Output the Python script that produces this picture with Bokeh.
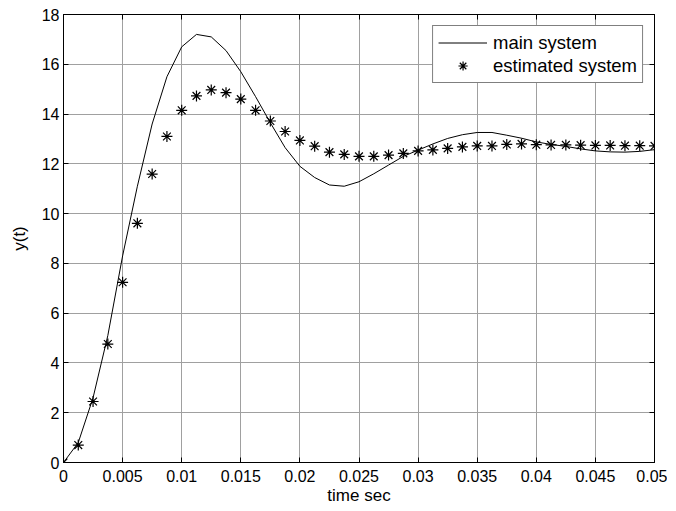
from bokeh.plotting import figure
from bokeh.models import FixedTicker, LinearAxis, Legend, LegendItem, Range1d
from bokeh.embed import file_html
from bokeh.resources import INLINE

# ---- data ----
time_s = [0, 0.00125, 0.0025, 0.00375, 0.005, 0.00625, 0.0075, 0.00875, 0.01, 0.01125,
          0.0125, 0.01375, 0.015, 0.01625, 0.0175, 0.01875, 0.02, 0.02125, 0.0225, 0.02375,
          0.025, 0.02625, 0.0275, 0.02875, 0.03, 0.03125, 0.0325, 0.03375, 0.035, 0.03625,
          0.0375, 0.03875, 0.04, 0.04125, 0.0425, 0.04375, 0.045, 0.04625, 0.0475, 0.04875, 0.05]
main_system = [0, 0.8, 2.6, 5.1, 8.3, 11.1, 13.6, 15.5, 16.7, 17.2,
               17.1, 16.55, 15.7, 14.7, 13.65, 12.65, 11.9, 11.45, 11.15, 11.1,
               11.28, 11.6, 11.95, 12.3, 12.55, 12.8, 13.02, 13.17, 13.26, 13.26,
               13.15, 13.03, 12.88, 12.78, 12.7, 12.6, 12.52, 12.48, 12.47, 12.5, 12.57]
estimated_system = [0, 0.7, 2.45, 4.76, 7.24, 9.61, 11.59, 13.1, 14.15, 14.73,
                    14.97, 14.86, 14.6, 14.15, 13.72, 13.3, 12.94, 12.71, 12.47, 12.38,
                    12.3, 12.3, 12.35, 12.42, 12.52, 12.56, 12.62, 12.68, 12.72, 12.72,
                    12.78, 12.8, 12.77, 12.76, 12.76, 12.75, 12.74, 12.74, 12.73, 12.73, 12.72]
x_ticks = [0, 0.005, 0.01, 0.015, 0.02, 0.025, 0.03, 0.035, 0.04, 0.045, 0.05]
x_tick_labels = ["0", "0.005", "0.01", "0.015", "0.02", "0.025", "0.03", "0.035", "0.04", "0.045", "0.05"]
y_ticks = [0, 2, 4, 6, 8, 10, 12, 14, 16, 18]
x_label = "time sec"
y_label = "y(t)"
series_names = ["main system", "estimated system"]

FONT = "Liberation Sans"

p = figure(width=667, height=507, output_backend="svg", toolbar_location=None,
           x_range=Range1d(0, 0.05), y_range=Range1d(0, 18),
           min_border_left=63, min_border_right=13, min_border_top=14, min_border_bottom=44)
p.background_fill_color = "white"
p.border_fill_color = "white"
p.outline_line_color = "black"
p.outline_line_width = 1

l1 = p.line(time_s, main_system, line_color="black", line_width=1)
m1 = p.scatter(time_s, estimated_system, marker="asterisk", size=11,
               line_color="black", line_width=1.2)

for ax in (p.xaxis[0], p.yaxis[0]):
    ax.major_tick_in = 5
    ax.major_tick_out = 0
    ax.minor_tick_in = 0
    ax.minor_tick_out = 0
    ax.axis_line_color = "black"
    ax.major_tick_line_color = "black"
    ax.major_label_text_font = FONT
    ax.major_label_text_font_size = "16px"
    ax.major_label_text_color = "black"
    ax.axis_label_text_font = FONT
    ax.axis_label_text_font_size = "17px"
    ax.axis_label_text_font_style = "normal"
    ax.axis_label_text_color = "black"

p.xaxis[0].ticker = FixedTicker(ticks=x_ticks)
p.xaxis[0].major_label_overrides = {t: s for t, s in zip(x_ticks, x_tick_labels)}
p.xaxis[0].major_label_standoff = 7
p.xaxis[0].axis_label = x_label
p.xaxis[0].axis_label_standoff = 1
p.yaxis[0].ticker = FixedTicker(ticks=y_ticks)
p.yaxis[0].major_label_overrides = {t: str(t) for t in y_ticks}
p.yaxis[0].major_label_standoff = 4
p.yaxis[0].axis_label = y_label
p.yaxis[0].axis_label_standoff = 10

# mirrored axes (box with ticks)
top = LinearAxis(ticker=FixedTicker(ticks=x_ticks), major_label_text_font_size="1px",
                 major_label_text_alpha=0,
                 major_tick_in=5, major_tick_out=0, minor_tick_in=0, minor_tick_out=0,
                 axis_line_color="black", major_label_standoff=0)
right = LinearAxis(ticker=FixedTicker(ticks=y_ticks), major_label_text_font_size="1px",
                   major_label_text_alpha=0,
                   major_tick_in=5, major_tick_out=0, minor_tick_in=0, minor_tick_out=0,
                   axis_line_color="black", major_label_standoff=0)
p.add_layout(top, "above")
p.add_layout(right, "right")

p.xgrid.ticker = FixedTicker(ticks=x_ticks)
p.ygrid.ticker = FixedTicker(ticks=y_ticks)
p.grid.grid_line_color = "#a0a0a0"
p.grid.grid_line_width = 1

legend = Legend(items=[LegendItem(label=series_names[0], renderers=[l1]),
                       LegendItem(label=series_names[1], renderers=[m1])],
                location="top_right")
legend.margin = 11
legend.padding = 5
legend.spacing = 0
legend.glyph_width = 49
legend.glyph_height = 23
legend.label_height = 23
legend.label_standoff = 6
legend.label_text_font = FONT
legend.label_text_font_size = "18.5px"
legend.label_text_color = "black"
legend.border_line_color = "black"
legend.border_line_width = 1
legend.background_fill_color = "white"
legend.background_fill_alpha = 1
p.add_layout(legend, "center")

open("out.html", "w").write(file_html(p, INLINE))
